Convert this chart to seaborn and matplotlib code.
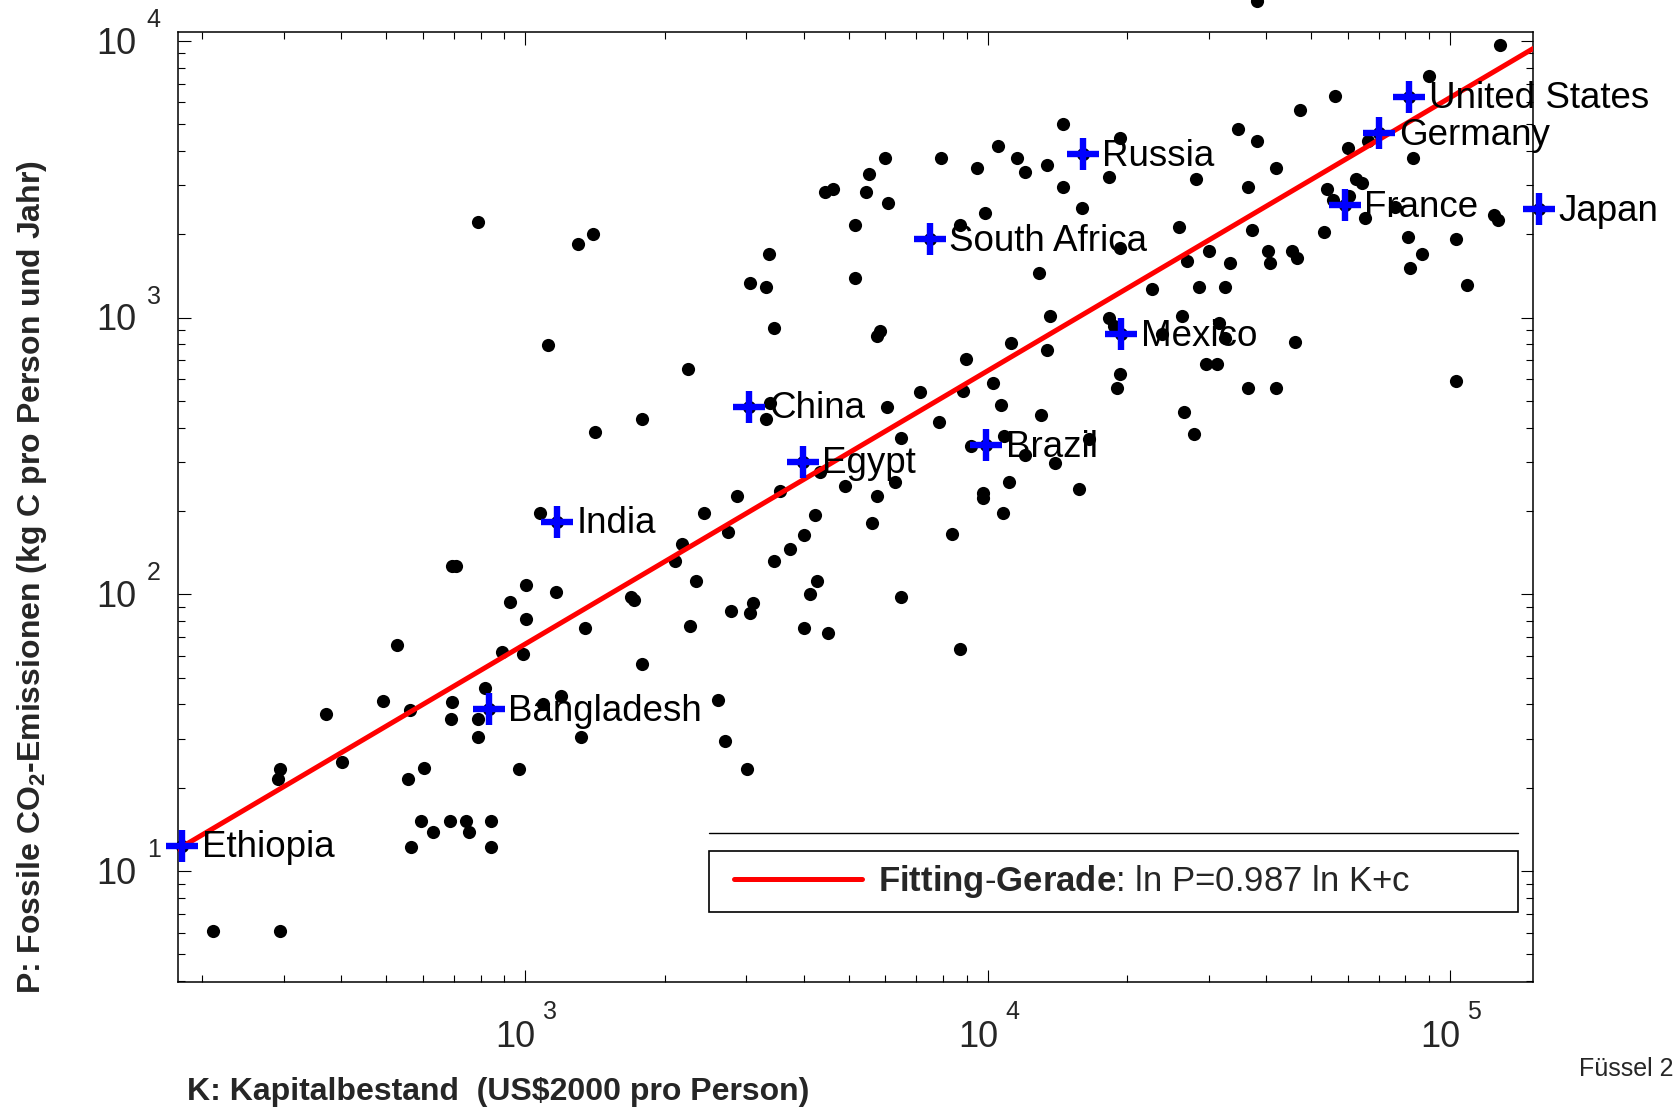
import numpy as np
import pandas as pd
import matplotlib
matplotlib.use("Agg")
import matplotlib.pyplot as plt
import seaborn as sns
from matplotlib.lines import Line2D
from matplotlib.patches import Rectangle
from matplotlib.ticker import LogLocator, NullFormatter

# ---------------- data ----------------
country_names = ["Ethiopia", "Bangladesh", "India", "China", "Egypt", "Brazil",
                 "South Africa", "Russia", "Mexico", "United States", "Germany",
                 "France", "Japan"]
country_K = [181, 834, 1169, 3048, 3978, 9930, 7490, 16060, 19420, 81450, 70260, 59200, 155300]
country_P = [12.35, 38.4, 183, 476, 301, 346, 1916, 3887, 870, 6276, 4629, 2549, 2460]

other_K = [788, 1298, 1401, 1121,
           2246, 3059, 3307, 3358, 3447, 4443, 4633, 5168, 5168, 5448, 5533, 5981, 6074,
           5747, 5837, 7133, 7933, 8725, 8843, 8959, 9471, 9838, 10257, 10537, 11241,
           11564, 12040, 12895, 13395, 13395, 13625, 14531, 14561, 15993, 18239, 18239,
           18737, 19276, 19276, 19276, 19020, 22587, 23823, 25901, 26250, 26910, 28184, 28609,
           38190, 128050, 90120, 56290, 47330, 34740, 38190, 41880, 36600, 60200, 66240,
           83110, 62680, 64580, 54150, 60380, 55810, 75770, 65260, 124400, 126520, 37170,
           53430, 81040, 102870, 30030, 33320, 40360, 40820, 45390, 46690, 86680, 82010,
           108720, 32500, 31640, 32550, 46140, 29580, 31370, 36600, 41880, 102870,
           1413, 1787, 3319, 3382, 6050, 10675, 13040, 26500, 27890, 7828, 6493, 10820,
           9203, 12020, 13950, 16550, 4334, 4906, 6308, 5770, 3548, 2861, 2433, 11136,
           9744, 9744, 15750, 10780, 4229, 2744, 5607, 4002, 8368, 2183, 2105, 3737, 3454,
           2338, 4270, 1688, 1720, 4117, 6493, 2787, 3106, 3065, 2272, 4002, 4521, 8725,
           1787, 2607, 2707, 3017,
           1073, 692, 708, 1003, 1162, 925, 1003, 1348, 528, 890, 990, 819, 1196, 491,
           692, 1089, 564, 370, 689, 788, 788, 1316, 402, 295, 292, 602, 558, 966,
           594, 630, 688, 743, 756, 844, 565, 844, 211, 295]
other_P = [2208, 1838, 1999, 796,
           651, 1336, 1286, 1696, 914, 2848, 2906, 2159, 1393, 2848, 3291, 3778, 2586,
           858, 896, 537, 3778, 2159, 544, 706, 3476, 2391, 578, 4176, 811,
           3778, 3347, 1444, 3554, 763, 1012, 5002, 2969, 2480, 3218, 993,
           932, 4440, 1778, 627, 558, 1264, 870, 2118, 1012, 1600, 3158, 1286,
           13950, 9650, 7457, 6328, 5618, 4797, 4341, 3476, 2969, 4086, 4341,
           3778, 3158, 3054, 2912, 2748, 2658, 2501, 2294, 2346, 2250, 2076,
           2032, 1958, 1916, 1735, 1570, 1735, 1570, 1743, 1637, 1696, 1513,
           1311, 1286, 953, 845, 818, 679, 679, 558, 558, 590,
           387, 429, 429, 490, 474, 483, 446, 455, 380, 420, 366, 373,
           344, 319, 299, 363, 277, 246, 255, 226, 236, 226, 196, 255,
           232, 222, 240, 196, 193, 167.5, 181, 164, 165, 152, 132, 146, 132,
           112, 112, 98, 95.4, 100, 98, 87, 92.8, 85.4, 77, 75.4, 72.3, 63.3,
           55.9, 41.5, 29.5, 23.3,
           196, 127, 127, 108, 101.7, 94, 81.4, 75.4, 65.6, 61.7, 60.7, 45.8, 43, 41.3,
           40.7, 40.1, 38.2, 36.9, 35.4, 35.4, 30.6, 30.6, 24.7, 23.3, 21.5, 23.6, 21.5, 23.3,
           15.2, 13.8, 15.2, 15.2, 13.8, 15.2, 12.25, 12.25, 6.09, 6.09]

fit_slope = 0.987
fit_intercept = -1.14   # log10 units
fit_label = r"$\mathbf{Fitting}$-$\mathbf{Gerade}$: ln P=0.987 ln K+c"

x_tick_values = [1e3, 1e4, 1e5]
x_tick_exponents = ["3", "4", "5"]
y_tick_values = [1e1, 1e2, 1e3, 1e4]
y_tick_exponents = ["1", "2", "3", "4"]

xlabel_text = r"K: Kapitalbestand  (US\$2000 pro Person)"
ylabel_text = r"P: Fossile CO$_{\mathbf{2}}$-Emissionen (kg C pro Person und Jahr)"
credit_text = "Füssel 2"

# ---------------- style ----------------
sns.set_theme(style="ticks")
plt.rcParams['font.family'] = ['Liberation Sans', 'DejaVu Sans']
plt.rcParams['mathtext.fontset'] = 'custom'
plt.rcParams['mathtext.rm'] = 'Liberation Sans'
plt.rcParams['mathtext.bf'] = 'Liberation Sans:bold'
plt.rcParams['mathtext.it'] = 'Liberation Sans:italic'

W, H = 1679, 1111
fig = plt.figure(figsize=(W / 100, H / 100), dpi=100)
ax = fig.add_axes([177.5 / W, 1 - 981.7 / H, (1533.2 - 177.5) / W, (981.7 - 31.7) / H])
ax.set_xscale('log')
ax.set_yscale('log')
ax.set_xlim(176.8, 1.511e5)
ax.set_ylim(3.985, 1.078e4)

all_K = other_K + country_K
all_P = other_P + country_P
df = pd.DataFrame({"K": all_K, "P": all_P})
sns.scatterplot(data=df, x="K", y="P", ax=ax, color="black", s=90, linewidth=0,
                clip_on=False, zorder=2, legend=False)

kx = np.array(ax.get_xlim())
py = 10 ** (fit_slope * np.log10(kx) + fit_intercept)
sns.lineplot(x=kx, y=py, ax=ax, color="red", linewidth=3.6, label=fit_label,
             estimator=None, zorder=3)

cdf = pd.DataFrame({"K": country_K, "P": country_P})
sns.scatterplot(data=cdf, x="K", y="P", ax=ax, marker="+", s=520, color="blue",
                linewidth=4.6, clip_on=False, zorder=4, legend=False)

for name, k, p in zip(country_names, country_K, country_P):
    ax.annotate(name, (k, p), xytext=(14, -1.5), textcoords="offset points",
                ha="left", va="center", fontsize=26.5, color="black",
                annotation_clip=False, zorder=5)

ax.set_xlim(176.8, 1.511e5)
ax.set_ylim(3.985, 1.078e4)

# ticks
ax.xaxis.set_major_locator(LogLocator(base=10, numticks=12))
ax.xaxis.set_minor_locator(LogLocator(base=10, subs=np.arange(2, 10), numticks=12))
ax.yaxis.set_major_locator(LogLocator(base=10, numticks=12))
ax.yaxis.set_minor_locator(LogLocator(base=10, subs=np.arange(2, 10), numticks=12))
ax.xaxis.set_minor_formatter(NullFormatter())
ax.yaxis.set_minor_formatter(NullFormatter())
ax.tick_params(which="both", direction="in", top=True, right=True,
               labelbottom=False, labelleft=False, color="black")
ax.tick_params(which="major", length=9, width=0.8)
ax.tick_params(which="minor", length=5, width=0.8)
for s in ax.spines.values():
    s.set_linewidth(1.1)
    s.set_color("black")

for v, e in zip(x_tick_values, x_tick_exponents):
    ax.annotate("10", xy=(v, 0), xycoords=("data", "axes fraction"), xytext=(-7.2, -40.2),
                textcoords="offset points", ha="center", va="center", fontsize=26,
                annotation_clip=False)
    ax.annotate(e, xy=(v, 0), xycoords=("data", "axes fraction"), xytext=(17.3, -22),
                textcoords="offset points", ha="center", va="center", fontsize=18,
                annotation_clip=False)
for v, e in zip(y_tick_values, y_tick_exponents):
    ax.annotate("10", xy=(0, v), xycoords=("axes fraction", "data"), xytext=(-29.9, -2.5),
                textcoords="offset points", ha="right", va="center", fontsize=26,
                annotation_clip=False)
    ax.annotate(e, xy=(0, v), xycoords=("axes fraction", "data"), xytext=(-22.2, 15),
                textcoords="offset points", ha="left", va="center", fontsize=18,
                annotation_clip=False)

ax.set_xlabel(xlabel_text, fontsize=23, fontweight="bold", ha="left", va="center")
ax.xaxis.set_label_coords(0.0073, -0.1166)
ax.set_ylabel(ylabel_text, fontsize=23, fontweight="bold", ha="center", va="center")
ax.yaxis.set_label_coords(-0.1073, 0.426)

# legend
handles, labels = ax.get_legend_handles_labels()
ax.legend(handles, labels, loc="center left", bbox_to_anchor=(733.5 / W, 1 - 881.5 / H),
          bbox_transform=fig.transFigure, frameon=False, fontsize=25, handlelength=3.7,
          handletextpad=0.46, borderpad=0, borderaxespad=0)
fig.add_artist(Rectangle((709 / W, 1 - 912 / H), (1518 - 709) / W, 61 / H,
                         transform=fig.transFigure, fill=False, edgecolor="black", lw=1.2))
fig.add_artist(Line2D([709 / W, 1518 / W], [1 - 833.3 / H] * 2, transform=fig.transFigure,
                      color="black", lw=1.0))

fig.text(1579 / W, 1 - 1069 / H, credit_text, fontsize=18, ha="left", va="center")

fig.savefig("out.png", dpi=100)
